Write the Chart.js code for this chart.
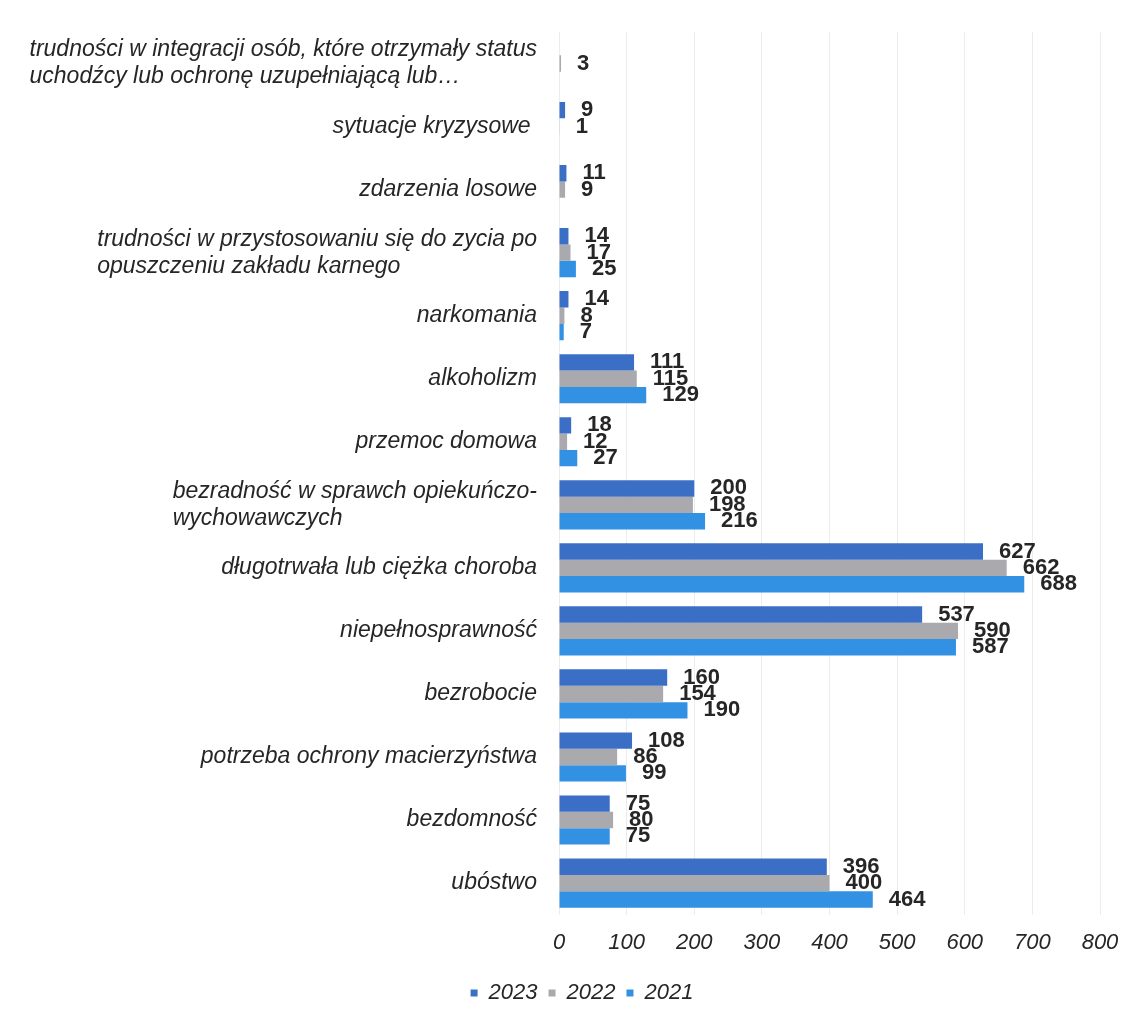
<!DOCTYPE html>
<html>
<head>
<meta charset="utf-8">
<script src="https://cdn.jsdelivr.net/npm/chart.js@4"></script>
<style>
  body { margin: 0; background: #fff; font-family: "Liberation Sans", sans-serif; }
  #wrap { width: 1143px; height: 1015px; }
</style>
</head>
<body>
<div id="wrap"><canvas id="chart" width="1143" height="1015"></canvas></div>
<script>
// kategorie od góry do dołu
const categories = [
    ['trudności w integracji osób, które otrzymały status', 'uchodźcy lub ochronę uzupełniającą lub…'],
    ['sytuacje kryzysowe '],
    ['zdarzenia losowe'],
    ['trudności w przystosowaniu się do zycia po', 'opuszczeniu zakładu karnego'],
    ['narkomania'],
    ['alkoholizm'],
    ['przemoc domowa'],
    ['bezradność w sprawch opiekuńczo-', 'wychowawczych'],
    ['długotrwała lub ciężka choroba'],
    ['niepełnosprawność'],
    ['bezrobocie'],
    ['potrzeba ochrony macierzyństwa'],
    ['bezdomność'],
    ['ubóstwo']
];
const v2023 = [null, 9, 11, 14, 14, 111, 18, 200, 627, 537, 160, 108, 75, 396];
const v2022 = [3, 1, 9, 17, 8, 115, 12, 198, 662, 590, 154, 86, 80, 400];
const v2021 = [null, null, null, 25, 7, 129, 27, 216, 688, 587, 190, 99, 75, 464];
const xTicks = [0, 100, 200, 300, 400, 500, 600, 700, 800];

const FONT = "'Liberation Sans', Arial, sans-serif";

// etykiety kategorii: blok wyrównany do prawej, linie do lewej
const catLabels = {
    id: 'catLabels',
    afterDraw(chart) {
        const ctx = chart.ctx;
        const y = chart.scales.y;
        ctx.save();
        ctx.font = 'italic 23px ' + FONT;
        ctx.fillStyle = '#262626';
        ctx.textBaseline = 'middle';
        ctx.textAlign = 'left';
        categories.forEach((lines, i) => {
            const cy = y.getPixelForValue(i);
            let w = 0;
            for (const l of lines) w = Math.max(w, ctx.measureText(l).width);
            const x0 = 537 - w;
            lines.forEach((l, j) => {
                ctx.fillText(l, x0, cy + (j - (lines.length - 1) / 2) * 27);
            });
        });
        ctx.restore();
    }
};

// wartości na końcu słupków
const valueLabels = {
    id: 'valueLabels',
    afterDatasetsDraw(chart) {
        const ctx = chart.ctx;
        ctx.save();
        ctx.font = 'bold 22px ' + FONT;
        ctx.fillStyle = '#262626';
        ctx.textBaseline = 'middle';
        ctx.textAlign = 'left';
        chart.data.datasets.forEach((ds, di) => {
            const meta = chart.getDatasetMeta(di);
            meta.data.forEach((bar, i) => {
                const v = ds.data[i];
                if (v === null) return;
                ctx.fillText(String(v), bar.x + 16, bar.y);
            });
        });
        ctx.restore();
    }
};

function draw() {
    let ctx = document.getElementById('chart').getContext('2d');
    new Chart(ctx, {
        type: 'bar',
        data: {
            labels: categories,
            datasets: [
                { label: '2023', data: v2023, backgroundColor: '#3b6fc6' },
                { label: '2022', data: v2022, backgroundColor: '#a9a9ae' },
                { label: '2021', data: v2021, backgroundColor: '#3391e4' }
            ]
        },
        options: {
            indexAxis: 'y',
            responsive: false,
            animation: false,
            categoryPercentage: 0.78,
            barPercentage: 1.0,
            layout: { padding: { top: 32, right: 43, bottom: 1, left: 64 } },
            plugins: {
                legend: {
                    position: 'bottom',
                    labels: {
                        boxWidth: 7,
                        boxHeight: 7,
                        padding: 11,
                        color: '#262626',
                        font: { family: FONT, size: 22, style: 'italic' }
                    }
                },
                tooltip: { enabled: false }
            },
            scales: {
                x: {
                    min: 0,
                    max: 800,
                    afterBuildTicks: (scale) => { scale.ticks = xTicks.map(v => ({ value: v })); },
                    grid: { color: '#ececec', drawTicks: false },
                    border: { display: false },
                    ticks: {
                        color: '#262626',
                        padding: 15,
                        font: { family: FONT, size: 22, style: 'italic' }
                    }
                },
                y: {
                    grid: { display: false },
                    border: { display: false },
                    ticks: { color: 'rgba(0,0,0,0)' },
                    afterFit: (scale) => { scale.width = 495; }
                }
            }
        },
        plugins: [catLabels, valueLabels]
    });
}

if (document.fonts && document.fonts.load) {
    Promise.all([
        document.fonts.load("italic 23px 'Liberation Sans'"),
        document.fonts.load("bold 22px 'Liberation Sans'")
    ]).then(draw, draw);
} else {
    draw();
}
</script>
</body>
</html>
